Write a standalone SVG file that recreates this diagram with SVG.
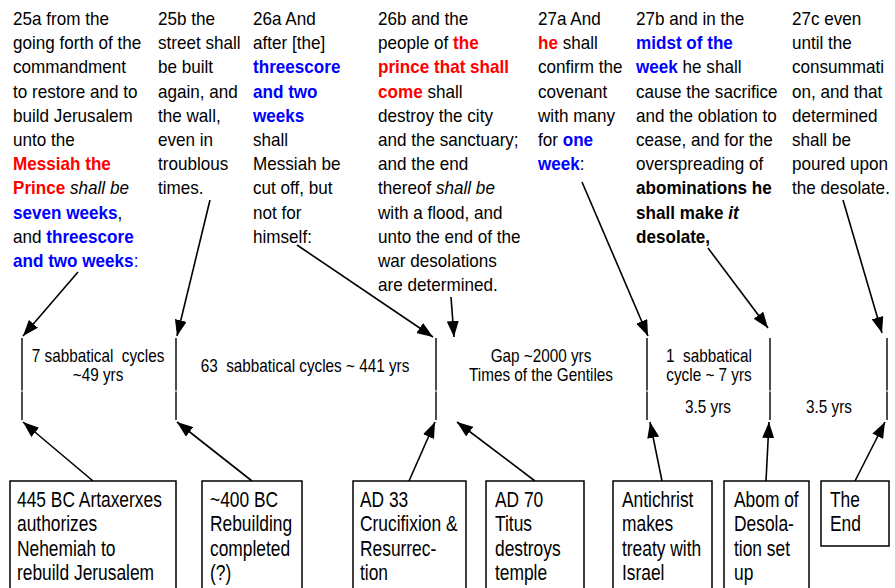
<svg xmlns="http://www.w3.org/2000/svg" width="895" height="588" viewBox="0 0 895 588">
<style>
text{font-family:"Liberation Sans",Arial,sans-serif;fill:#000}
.t{font-size:18px}
.m{font-size:18px;text-anchor:middle;white-space:pre}
.bx{font-size:22px}
.r{fill:#FF0000;font-weight:bold}
.b{fill:#0000FF;font-weight:bold}
.bb{font-weight:bold}
.i{font-style:italic}
.tick{stroke:#000;stroke-width:1.4}
.arr{stroke:#000;stroke-width:1.6;fill:none;marker-end:url(#ah)}
.box{fill:#fff;stroke:#000;stroke-width:1.5}
</style>
<defs>
<marker id="ah" markerUnits="userSpaceOnUse" markerWidth="16" markerHeight="12" refX="16" refY="6" orient="auto"><path d="M0,0 L16,6 L0,12 z" fill="#000"/></marker>
</defs>
<rect width="895" height="588" fill="#fff"/>

<g id="verses">
<g id="v25a" transform="translate(13,0) scale(0.95,1)">
<text class="t" y="25">25a from the</text>
<text class="t" y="49.2">going forth of the</text>
<text class="t" y="73.4">commandment</text>
<text class="t" y="97.6">to restore and to</text>
<text class="t" y="121.8">build Jerusalem</text>
<text class="t" y="146">unto the</text>
<text class="t" y="170.2"><tspan class="r">Messiah the</tspan></text>
<text class="t" y="194.4"><tspan class="r">Prince</tspan><tspan class="i"> shall be</tspan></text>
<text class="t" y="218.6"><tspan class="b">seven weeks</tspan>,</text>
<text class="t" y="242.8">and <tspan class="b">threescore</tspan></text>
<text class="t" y="267"><tspan class="b">and two weeks</tspan><tspan fill="#0000FF">:</tspan></text>
</g>
<g id="v25b" transform="translate(158,0) scale(0.95,1)">
<text class="t" y="25">25b the</text>
<text class="t" y="49.2">street shall</text>
<text class="t" y="73.4">be built</text>
<text class="t" y="97.6">again, and</text>
<text class="t" y="121.8">the wall,</text>
<text class="t" y="146">even in</text>
<text class="t" y="170.2">troublous</text>
<text class="t" y="194.4">times.</text>
</g>
<g id="v26a" transform="translate(253,0) scale(0.95,1)">
<text class="t" y="25">26a And</text>
<text class="t" y="49.2">after [the]</text>
<text class="t" y="73.4"><tspan class="b">threescore</tspan></text>
<text class="t" y="97.6"><tspan class="b">and two</tspan></text>
<text class="t" y="121.8"><tspan class="b">weeks</tspan></text>
<text class="t" y="146">shall</text>
<text class="t" y="170.2">Messiah be</text>
<text class="t" y="194.4">cut off, but</text>
<text class="t" y="218.6">not for</text>
<text class="t" y="242.8">himself:</text>
</g>
<g id="v26b" transform="translate(378,0) scale(0.95,1)">
<text class="t" y="25">26b and the</text>
<text class="t" y="49.2">people of <tspan class="r">the</tspan></text>
<text class="t" y="73.4"><tspan class="r">prince that shall</tspan></text>
<text class="t" y="97.6"><tspan class="r">come</tspan> shall</text>
<text class="t" y="121.8">destroy the city</text>
<text class="t" y="146">and the sanctuary;</text>
<text class="t" y="170.2">and the end</text>
<text class="t" y="194.4">thereof <tspan class="i">shall be</tspan></text>
<text class="t" y="218.6">with a flood, and</text>
<text class="t" y="242.8">unto the end of the</text>
<text class="t" y="267">war desolations</text>
<text class="t" y="291.2">are determined.</text>
</g>
<g id="v27a" transform="translate(538,0) scale(0.95,1)">
<text class="t" y="25">27a And</text>
<text class="t" y="49.2"><tspan class="r">he</tspan> shall</text>
<text class="t" y="73.4">confirm the</text>
<text class="t" y="97.6">covenant</text>
<text class="t" y="121.8">with many</text>
<text class="t" y="146">for <tspan class="b">one</tspan></text>
<text class="t" y="170.2"><tspan class="b">week</tspan>:</text>
</g>
<g id="v27b" transform="translate(636,0) scale(0.95,1)">
<text class="t" y="25">27b and in the</text>
<text class="t" y="49.2"><tspan class="b">midst of the</tspan></text>
<text class="t" y="73.4"><tspan class="b">week</tspan> he shall</text>
<text class="t" y="97.6">cause the sacrifice</text>
<text class="t" y="121.8">and the oblation to</text>
<text class="t" y="146">cease, and for the</text>
<text class="t" y="170.2">overspreading of</text>
<text class="t bb" y="194.4">abominations he</text>
<text class="t bb" y="218.6">shall make <tspan class="i">it</tspan></text>
<text class="t bb" y="242.8">desolate,</text>
</g>
<g id="v27c" transform="translate(792,0) scale(0.95,1)">
<text class="t" y="25">27c even</text>
<text class="t" y="49.2">until the</text>
<text class="t" y="73.4">consummati</text>
<text class="t" y="97.6">on, and that</text>
<text class="t" y="121.8">determined</text>
<text class="t" y="146">shall be</text>
<text class="t" y="170.2">poured upon</text>
<text class="t" y="194.4">the desolate.</text>
</g>
</g>

<g id="timeline">
<line class="tick" x1="22" y1="338" x2="22" y2="390.5"/><line class="tick" x1="22" y1="391.5" x2="22" y2="420"/>
<line class="tick" x1="176" y1="338" x2="176" y2="390.5"/><line class="tick" x1="176" y1="391.5" x2="176" y2="420"/>
<line class="tick" x1="436" y1="338" x2="436" y2="390.5"/><line class="tick" x1="436" y1="391.5" x2="436" y2="420"/>
<line class="tick" x1="647" y1="338" x2="647" y2="390.5"/><line class="tick" x1="647" y1="391.5" x2="647" y2="420"/>
<line class="tick" x1="770" y1="338" x2="770" y2="390.5"/><line class="tick" x1="770" y1="391.5" x2="770" y2="420"/>
<line class="tick" x1="887" y1="338" x2="887" y2="390.5"/><line class="tick" x1="887" y1="391.5" x2="887" y2="420"/>
<text class="m" transform="translate(98,362) scale(0.85,1)">7 sabbatical  cycles</text>
<text class="m" transform="translate(98,381) scale(0.85,1)">~49 yrs</text>
<text class="m" transform="translate(305,372) scale(0.85,1)">63  sabbatical cycles ~ 441 yrs</text>
<text class="m" transform="translate(541,362) scale(0.85,1)">Gap ~2000 yrs</text>
<text class="m" transform="translate(541,381) scale(0.85,1)">Times of the Gentiles</text>
<text class="m" transform="translate(709,362) scale(0.85,1)">1  sabbatical</text>
<text class="m" transform="translate(709,381) scale(0.85,1)">cycle ~ 7 yrs</text>
<text class="m" transform="translate(708,413) scale(0.85,1)">3.5 yrs</text>
<text class="m" transform="translate(829,413) scale(0.85,1)">3.5 yrs</text>
</g>

<g id="connectors">
<line class="arr" x1="78" y1="272" x2="23" y2="336"/>
<line class="arr" x1="210" y1="200" x2="177" y2="336"/>
<line class="arr" x1="297" y1="245" x2="433" y2="337"/>
<line class="arr" x1="451" y1="297" x2="454" y2="337"/>
<line class="arr" x1="582" y1="182" x2="648" y2="336"/>
<line class="arr" x1="708" y1="248" x2="768" y2="328"/>
<line class="arr" x1="843" y1="200" x2="882" y2="333"/>
<line class="arr" x1="93" y1="481" x2="23" y2="422"/>
<line class="arr" x1="252" y1="481" x2="177" y2="422"/>
<line class="arr" x1="409" y1="481" x2="435" y2="422"/>
<line class="arr" x1="535" y1="481" x2="457" y2="422"/>
<line class="arr" x1="662" y1="481" x2="650" y2="422"/>
<line class="arr" x1="766" y1="481" x2="769" y2="422"/>
<line class="arr" x1="855" y1="481" x2="885" y2="422"/>
</g>

<g id="box1">
<rect class="box" x="10" y="481" width="166" height="110"/>
<g transform="translate(17,0) scale(0.79,1)">
<text class="bx" y="507">445 BC Artaxerxes</text>
<text class="bx" y="531.5">authorizes</text>
<text class="bx" y="556">Nehemiah to</text>
<text class="bx" y="580.5">rebuild Jerusalem</text>
</g>
</g>
<g id="box2">
<rect class="box" x="202" y="481" width="100" height="110"/>
<g transform="translate(210,0) scale(0.79,1)">
<text class="bx" y="507">~400 BC</text>
<text class="bx" y="531.5">Rebuilding</text>
<text class="bx" y="556">completed</text>
<text class="bx" y="580.5">(?)</text>
</g>
</g>
<g id="box3">
<rect class="box" x="353" y="481" width="113" height="110"/>
<g transform="translate(360,0) scale(0.79,1)">
<text class="bx" y="507">AD 33</text>
<text class="bx" y="531.5">Crucifixion &amp;</text>
<text class="bx" y="556">Resurrec-</text>
<text class="bx" y="580.5">tion</text>
</g>
</g>
<g id="box4">
<rect class="box" x="486" y="481" width="98" height="110"/>
<g transform="translate(495,0) scale(0.79,1)">
<text class="bx" y="507">AD 70</text>
<text class="bx" y="531.5">Titus</text>
<text class="bx" y="556">destroys</text>
<text class="bx" y="580.5">temple</text>
</g>
</g>
<g id="box5">
<rect class="box" x="613" y="481" width="99" height="110"/>
<g transform="translate(622,0) scale(0.79,1)">
<text class="bx" y="507">Antichrist</text>
<text class="bx" y="531.5">makes</text>
<text class="bx" y="556">treaty with</text>
<text class="bx" y="580.5">Israel</text>
</g>
</g>
<g id="box6">
<rect class="box" x="724" y="481" width="85" height="110"/>
<g transform="translate(734,0) scale(0.79,1)">
<text class="bx" y="507">Abom of</text>
<text class="bx" y="531.5">Desola-</text>
<text class="bx" y="556">tion set</text>
<text class="bx" y="580.5">up</text>
</g>
</g>
<g id="box7">
<rect class="box" x="821" y="481" width="68" height="65"/>
<g transform="translate(830,0) scale(0.79,1)">
<text class="bx" y="507">The</text>
<text class="bx" y="531">End</text>
</g>
</g>
</svg>
